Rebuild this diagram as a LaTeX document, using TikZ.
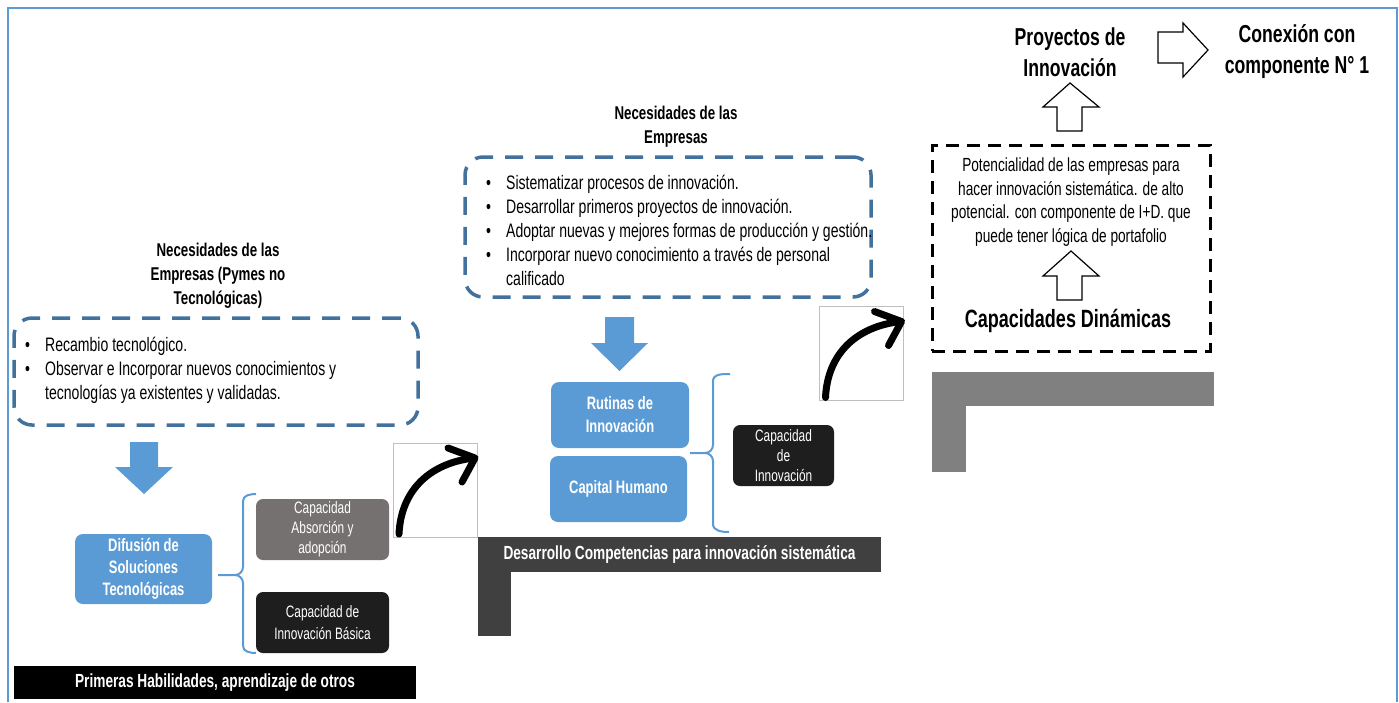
\documentclass[tikz,border=0pt]{standalone}
\usepackage{fontspec}
\setmainfont{Liberation Sans}[FakeStretch=0.72]
\usetikzlibrary{arrows.meta}

\definecolor{frameblue}{HTML}{5B9BD5}
\definecolor{dashblue}{HTML}{41719C}
\definecolor{boxblue}{HTML}{5B9BD5}
\definecolor{boxgray}{HTML}{767171}
\definecolor{boxblack}{HTML}{1E1E1E}
\definecolor{bardark}{HTML}{404040}
\definecolor{barmid}{HTML}{808080}

\tikzset{
  needbox/.style={draw=dashblue, line width=3.5pt, dash pattern=on 18pt off 12pt,
    rounded corners=18pt, inner sep=0pt},
  potbox/.style={draw=black, line width=3pt, dash pattern=on 13pt off 8pt, inner sep=0pt},
  bluebox/.style={fill=boxblue, rounded corners=8pt, text=white, align=center, inner sep=0pt,
    font=\bfseries\fontsize{18}{22}\selectfont},
  capbox/.style={rounded corners=7pt, text=white, align=center, inner sep=0pt,
    font=\fontsize{16.5}{20}\selectfont},
  titletext/.style={font=\bfseries\fontsize{18.5}{24}\selectfont, align=center, inner sep=0pt},
  bodytext/.style={font=\fontsize{19.5}{24}\selectfont, align=left, inner sep=0pt},
  headtext/.style={font=\bfseries\fontsize{24.5}{31}\selectfont, align=center, inner sep=0pt},
  bartext/.style={text=white, font=\bfseries\fontsize{19}{20}\selectfont, inner sep=0pt},
  bracepath/.style={draw=boxblue, line width=2pt},
  bluearrow/.style={fill=boxblue},
  hollowarrow/.style={draw=black, line width=1.2pt, fill=white, line join=miter},
  curvearrow/.style={line width=7pt, line cap=round, line join=round},
  arrowframe/.style={draw=black!25, line width=1pt, inner sep=0pt},
}

\newcommand{\bulletlist}[1]{\begin{tabular}{@{}p{20pt}@{}l@{}}#1\end{tabular}}

\begin{document}
\begin{tikzpicture}[x=1pt, y=-1pt]
\useasboundingbox (0,0) rectangle (1399,702);

% outer frame
\draw[frameblue, line width=2pt] (8,702) -- (8,8) -- (1397,8) -- (1397,702);

% ---------- stage 1: first skills ----------
\node[titletext] (need1title) at (218,276)
  {Necesidades de las\\Empresas (Pymes no\\Tecnológicas)};
\node[needbox, minimum width=404pt, minimum height=107pt] (need1) at (216,371.5) {};
\node[bodytext, anchor=west] (need1list) at (25,371)
  {\bulletlist{•& Recambio tecnológico.\\
               •& Observar e Incorporar nuevos conocimientos y\\
                & tecnologías ya existentes y validadas.}};

\fill[bluearrow] (130,442) -- (158,442) -- (158,467) -- (173,467) -- (144,494)
  -- (115,467) -- (130,467) -- cycle;

\node[bluebox, minimum width=137pt, minimum height=70pt] (difusion) at (143.5,569)
  {Difusión de\\Soluciones\\Tecnológicas};

\draw[bracepath] (256,494) to[out=180,in=90] (243,501) -- (243,567)
  to[out=-90,in=0] (235,575) -- (218,575);
\draw[bracepath] (235,575) to[out=0,in=90] (243,583) -- (243,646)
  to[out=-90,in=180] (256,653);

\node[capbox, fill=boxgray, minimum width=133pt, minimum height=61pt] (absorcion)
  at (322.5,529.5) {Capacidad\\Absorción y\\adopción};
\node[capbox, fill=boxblack, minimum width=133pt, minimum height=61pt,
  font=\fontsize{16.5}{22}\selectfont] (basica)
  at (322.5,622.5) {Capacidad de\\Innovación Básica};

\node[fill=black, minimum width=402pt, minimum height=33pt, bartext] (primeras)
  at (215,682.5) {Primeras Habilidades, aprendizaje de otros};

% step arrow 1
\node[arrowframe, minimum width=84pt, minimum height=94pt] (step1) at (435,490) {};
\begin{scope}[shift={(step1.center)}]
  \draw[curvearrow] (-36,44) .. controls (-34,0) and (-5,-27) .. (39,-32);
  \draw[curvearrow] (13,-42) -- (40,-32) -- (27,-8);
\end{scope}

% ---------- stage 2: competences ----------
\node[fill=bardark, minimum width=403pt, minimum height=35pt, bartext] (devbar)
  at (679.5,554.5) {Desarrollo Competencias para innovación sistemática};
\fill[bardark] (devbar.south west) rectangle ++(33,64);

\node[titletext] (need2title) at (676,127) {Necesidades de las\\Empresas};
\node[needbox, minimum width=406pt, minimum height=140pt] (need2) at (668,227) {};
\node[bodytext, anchor=west] (need2list) at (486,233)
  {\bulletlist{•& Sistematizar procesos de innovación.\\
               •& Desarrollar primeros proyectos de innovación.\\
               •& Adoptar nuevas y mejores formas de producción y gestión.\\
               •& Incorporar nuevo conocimiento a través de personal\\
                & calificado}};

\fill[bluearrow] (605,317) -- (634,317) -- (634,343) -- (648,343) -- (619.5,371)
  -- (591,343) -- (605,343) -- cycle;

\node[bluebox, minimum width=138pt, minimum height=66pt, font=\bfseries\fontsize{18}{23}\selectfont]
  (rutinas) at (620,415) {Rutinas de\\Innovación};
\node[bluebox, minimum width=137pt, minimum height=66pt] (capital) at (618.5,489)
  {Capital Humano};

\draw[bracepath] (730,374) to[out=180,in=90] (713,381) -- (713,445)
  to[out=-90,in=0] (705,453) -- (690,453);
\draw[bracepath] (705,453) to[out=0,in=90] (713,461) -- (713,524)
  to[out=-90,in=180] (729,532);

\node[capbox, fill=boxblack, minimum width=101pt, minimum height=61pt] (capinnov)
  at (783.5,455.5) {Capacidad\\de\\Innovación};

% step arrow 2
\node[arrowframe, minimum width=84pt, minimum height=94pt] (step2) at (861.5,353.5) {};
\begin{scope}[shift={(step2.center)}]
  \draw[curvearrow] (-36,44) .. controls (-34,0) and (-5,-27) .. (39,-32);
  \draw[curvearrow] (13,-42) -- (40,-32) -- (27,-8);
\end{scope}

% ---------- stage 3: dynamic capabilities ----------
\node[fill=barmid, minimum width=282pt, minimum height=34pt, inner sep=0pt] (dynbar)
  at (1073,389) {};
\fill[barmid] (dynbar.south west) rectangle ++(34,66);

\node[potbox, minimum width=278pt, minimum height=206pt] (potbox) at (1071,248) {};
\node[font=\fontsize{19}{23.5}\selectfont, align=center, inner sep=0pt] (pottext)
  at (1071,202)
  {Potencialidad de las empresas para\\hacer innovación sistemática. de alto\\
   potencial. con componente de I+D. que\\puede tener lógica de portafolio};
\draw[hollowarrow] (1057,300) -- (1057,276) -- (1043,276) -- (1071,251) -- (1099,276)
  -- (1082,276) -- (1082,300) -- cycle;
\node[headtext, font=\bfseries\fontsize{25}{30}\selectfont] (dinamicas) at (1068,321)
  {Capacidades Dinámicas};

\draw[hollowarrow] (1057,131) -- (1057,107) -- (1043,107) -- (1070,83) -- (1099,107)
  -- (1082,107) -- (1082,131) -- cycle;
\node[headtext] (proyectos) at (1070,52) {Proyectos de\\Innovación};
\draw[hollowarrow] (1158,32) -- (1183,32) -- (1183,23) -- (1208,50) -- (1183,77)
  -- (1183,63) -- (1158,63) -- cycle;
\node[headtext] (conexion) at (1297,52) {Conexión con\\componente N° 1};

\end{tikzpicture}
\end{document}
